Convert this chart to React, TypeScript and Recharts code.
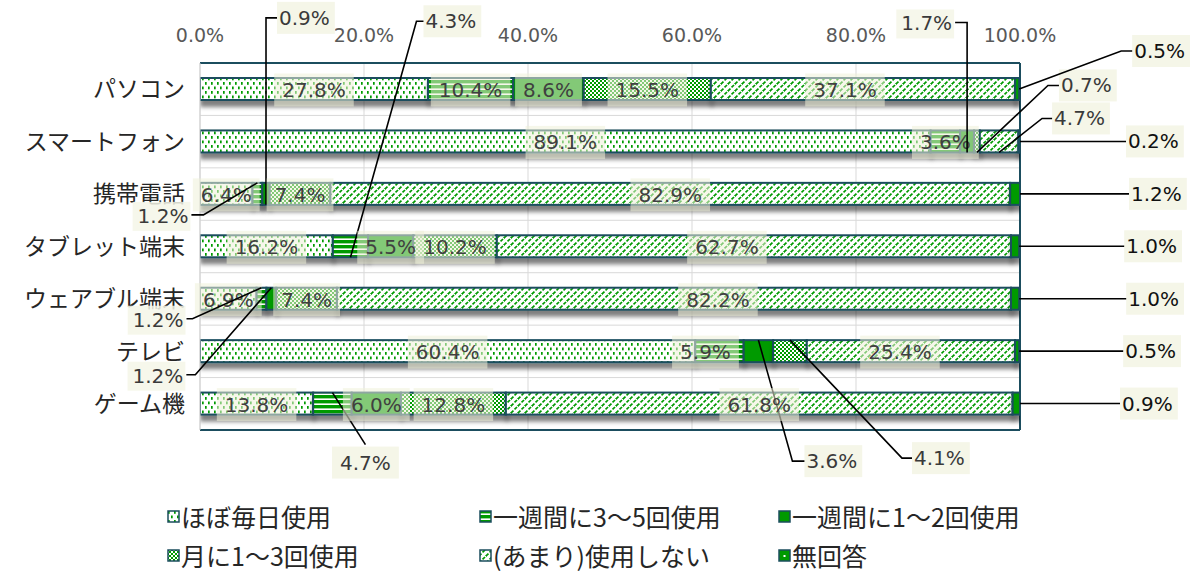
import React from 'react';
import { BarChart, Bar, XAxis, YAxis, CartesianGrid, LabelList } from 'recharts';

// ---------- data ----------
const categories = ['パソコン', 'スマートフォン', '携帯電話', 'タブレット端末', 'ウェアブル端末', 'テレビ', 'ゲーム機'];
const seriesNames = ['ほぼ毎日使用', '一週間に3～5回使用', '一週間に1～2回使用', '月に1～3回使用', '(あまり)使用しない', '無回答'];
const daily = [27.8, 89.1, 6.4, 16.2, 6.9, 60.4, 13.8];
const weekly35 = [10.4, 3.6, 1.2, 4.3, 1.2, 5.9, 4.7];
const weekly12 = [8.6, 1.7, 0.9, 5.5, 1.2, 3.6, 6.0];
const monthly = [15.5, 0.7, 7.4, 10.2, 7.4, 4.1, 12.8];
const rarely = [37.1, 4.7, 82.9, 62.7, 82.2, 25.4, 61.8];
const noAnswer = [0.5, 0.2, 1.2, 1.0, 1.0, 0.5, 0.9];
const xTicks = [0, 20, 40, 60, 80, 100];

const seriesKeys = ['d', 'w35', 'w12', 'm', 'r', 'na'];
const seriesValues = [daily, weekly35, weekly12, monthly, rarely, noAnswer];

const data = categories.map((name, i) => {
  const row: Record<string, any> = { name };
  seriesKeys.forEach((k, s) => { row[k] = seriesValues[s][i]; });
  return row;
});

// ---------- styles ----------
const FONT_NUM = "'DejaVu Sans', sans-serif";
const FONT_JP = "'Noto Sans CJK JP', sans-serif";
const TEAL = '#1B4D5E';
const GREEN = '#009A00';
const LABEL_SIZE = 20;
const seriesFills = ['url(#pDaily)', 'url(#p35)', GREEN, 'url(#pMonth)', 'url(#pRarely)', GREEN];

type Callout = { anchor: 'top' | 'bottom' | 'end'; dx: number; dy: number; tail: number; side: 'left' | 'right' | 'below'; dark?: boolean };
// leader-line label placement (layout only)
const callouts: Record<string, Callout> = {
  'na|0': { anchor: 'end', dx: 102, dy: -38, tail: 12, side: 'right', dark: true },
  'w12|1': { anchor: 'bottom', dx: 0, dy: -130, tail: 12, side: 'left' },
  'm|1': { anchor: 'bottom', dx: 71, dy: -67, tail: 12, side: 'right' },
  'r|1': { anchor: 'bottom', dx: 43, dy: -34, tail: 11, side: 'right' },
  'na|1': { anchor: 'end', dx: 107, dy: 0, tail: 0, side: 'right', dark: true },
  'w35|2': { anchor: 'top', dx: -54, dy: 32, tail: 12, side: 'left' },
  'w12|2': { anchor: 'bottom', dx: 0, dy: -187, tail: 12, side: 'right' },
  'na|2': { anchor: 'end', dx: 110, dy: 0, tail: 0, side: 'right', dark: true },
  'w35|3': { anchor: 'bottom', dx: 66, dy: -236, tail: 8, side: 'right' },
  'na|3': { anchor: 'end', dx: 106, dy: 0, tail: 0, side: 'right', dark: true },
  'w35|4': { anchor: 'top', dx: -69, dy: 31, tail: 6, side: 'left' },
  'w12|4': { anchor: 'top', dx: -76, dy: 87, tail: 9, side: 'left' },
  'na|4': { anchor: 'end', dx: 108, dy: 0, tail: 0, side: 'right', dark: true },
  'w12|5': { anchor: 'top', dx: 34, dy: 121, tail: 13, side: 'right' },
  'm|5': { anchor: 'top', dx: 112, dy: 118, tail: 11, side: 'right' },
  'na|5': { anchor: 'end', dx: 105, dy: 0, tail: 0, side: 'right', dark: true },
  'w35|6': { anchor: 'top', dx: 33, dy: 52, tail: 0, side: 'below' },
  'na|6': { anchor: 'end', dx: 101, dy: 0, tail: 0, side: 'right', dark: true },
};
const insideShift: Record<string, number> = { 'r|0': -18, 'r|3': -27, 'r|4': 44, 'r|5': -11, 'w35|5': -14 };

let measureCtx: CanvasRenderingContext2D | null = null;
function textWidth(t: string, size: number, family: string) {
  try {
    if (!measureCtx) measureCtx = document.createElement('canvas').getContext('2d');
    if (measureCtx) {
      measureCtx.font = `${size}px ${family}`;
      return measureCtx.measureText(t).width;
    }
  } catch (e) { /* ignore */ }
  return t.length * size * 0.6;
}

const makeLabel = (key: string) => (props: any) => {
  const vb = props.viewBox || {};
  const x = props.x ?? vb.x;
  const y = props.y ?? vb.y;
  const w = props.width ?? vb.width;
  const h = props.height ?? vb.height;
  const index = props.index;
  const value = props.value;
  if (value == null || x == null || y == null) return null;
  const txt = Number(value).toFixed(1) + '%';
  const id = `${key}|${index}`;
  const co = callouts[id];
  const tw = textWidth(txt, LABEL_SIZE, FONT_NUM);
  if (!co) {
    const cx = x + w / 2 + (insideShift[id] ?? 0);
    const cy = y + h / 2;
    const bw = tw + 16;
    const bh = 33;
    return (
      <g>
        <rect x={cx - bw / 2} y={cy - bh / 2 + 1} width={bw} height={bh} fill="#EEF1D8" fillOpacity={0.55} />
        <text x={cx} y={cy + 1} textAnchor="middle" dominantBaseline="central" fontSize={LABEL_SIZE} fontFamily={FONT_NUM} fill="#404040">{txt}</text>
      </g>
    );
  }
  let ax = x + w / 2;
  let ay = y + h / 2;
  if (co.anchor === 'top') ay = y;
  if (co.anchor === 'bottom') ay = y + h;
  if (co.anchor === 'end') ax = x + w;
  const ex = ax + co.dx;
  const ey = ay + co.dy;
  let tx = ex;
  if (co.side === 'right') tx = ex + co.tail;
  if (co.side === 'left') tx = ex - co.tail;
  const bh = 32;
  const color = co.dark ? '#111' : '#3a3a3a';
  let box: React.ReactNode;
  if (co.side === 'right') {
    box = (
      <g>
        <rect x={tx - 1} y={ey - bh / 2} width={tw + 7} height={bh} fill="#F5F6E8" />
        <text x={tx + 1} y={ey} dominantBaseline="central" fontSize={LABEL_SIZE} fontFamily={FONT_NUM} fill={color}>{txt}</text>
      </g>
    );
  } else if (co.side === 'left') {
    box = (
      <g>
        <rect x={tx - tw - 8} y={ey - bh / 2 + 3} width={tw + 7} height={bh - 3} fill="#F5F6E8" fillOpacity={0.85} />
        <text x={tx - 3} y={ey + 1} textAnchor="end" dominantBaseline="central" fontSize={LABEL_SIZE} fontFamily={FONT_NUM} fill={color}>{txt}</text>
      </g>
    );
  } else {
    box = (
      <g>
        <rect x={ex - tw / 2 - 8} y={ey + 2} width={tw + 16} height={bh} fill="#F5F6E8" />
        <text x={ex} y={ey + 2 + bh / 2} textAnchor="middle" dominantBaseline="central" fontSize={LABEL_SIZE} fontFamily={FONT_NUM} fill={color}>{txt}</text>
      </g>
    );
  }
  return (
    <g>
      <polyline points={`${ax},${ay} ${ex},${ey} ${tx},${ey}`} fill="none" stroke="#000" strokeWidth={1.6} />
      {box}
    </g>
  );
};

const BarShape = (props: any) => {
  const { x, y, width, height, fill } = props;
  if (width == null || width <= 0) return null;
  return <rect x={x} y={y} width={width} height={height} fill={fill} stroke={TEAL} strokeWidth={2} filter="url(#barShadow)" />;
};

const legendX = [167, 479, 778];
const legendY = [516, 555];

const LegendMarker = ({ fill, dot }: { fill: string; dot?: boolean }) => (
  <svg width={13} height={13} style={{ display: 'block' }}>
    <rect x={1} y={1} width={11} height={11} fill={fill} stroke={TEAL} strokeWidth={1.5} />
    {dot ? <rect x={5.5} y={6} width={2} height={2} fill="#fff" /> : null}
  </svg>
);

export default function App() {
  return (
    <div style={{ position: 'absolute', left: 0, top: 0, width: 1193, height: 576, background: '#fff' }}>
      <BarChart
        width={1193}
        height={576}
        data={data}
        layout="vertical"
        margin={{ top: 0, right: 173, bottom: 146, left: 0 }}
        barSize={22}
      >
        <defs>
          <pattern id="pDaily" patternUnits="userSpaceOnUse" width={6} height={9}>
            <rect width={6} height={9} fill="#fff" />
            <rect x={1} y={1} width={1.7} height={2.8} fill={GREEN} />
            <rect x={4} y={5.5} width={1.7} height={2.8} fill={GREEN} />
          </pattern>
          <pattern id="p35" patternUnits="userSpaceOnUse" width={4} height={5}>
            <rect width={4} height={5} fill={GREEN} />
            <rect x={0} y={3.4} width={4} height={1.6} fill="#fff" />
          </pattern>
          <pattern id="pMonth" patternUnits="userSpaceOnUse" width={4} height={4}>
            <rect width={4} height={4} fill="#fff" />
            <rect x={0} y={0} width={2} height={2} fill={GREEN} />
            <rect x={2} y={2} width={2} height={2} fill={GREEN} />
          </pattern>
          <pattern id="pRarely" patternUnits="userSpaceOnUse" width={7} height={7}>
            <rect width={7} height={7} fill="#fff" />
            <path d="M0,7 L7,0 M-1,1 L1,-1 M6,8 L8,6" stroke={GREEN} strokeWidth={1.7} strokeDasharray="3.5 1.5" />
          </pattern>
          <filter id="barShadow" filterUnits="userSpaceOnUse" x={0} y={0} width={1193} height={576}>
            <feDropShadow dx={1} dy={6} stdDeviation={2} floodColor="#000" floodOpacity={0.5} />
          </filter>
        </defs>
        <CartesianGrid
          stroke="#D9D9D9"
          strokeWidth={1}
          horizontalCoordinatesGenerator={({ offset }: any) =>
            categories.map((_, i) => offset.top + (i * offset.height) / categories.length)}
        />
        <CartesianGrid
          stroke={TEAL}
          strokeWidth={2}
          horizontalCoordinatesGenerator={({ offset }: any) => [offset.top, offset.top + offset.height]}
          verticalCoordinatesGenerator={({ offset }: any) => [offset.left + offset.width]}
        />
        <XAxis
          type="number"
          orientation="top"
          domain={[0, 100]}
          ticks={xTicks}
          tickFormatter={(v: number) => v.toFixed(1) + '%'}
          height={63}
          axisLine={false}
          tickLine={false}
          tickSize={0}
          tickMargin={21}
          tick={{ fontSize: 19, fill: '#595959', fontFamily: FONT_NUM }}
          interval={0}
          allowDataOverflow
        />
        <YAxis
          type="category"
          dataKey="name"
          width={200}
          axisLine={{ stroke: '#D0D0D0' }}
          tickLine={false}
          tickSize={0}
          tickMargin={15}
          tick={{ fontSize: 23, fill: '#262626', fontFamily: FONT_JP }}
          interval={0}
        />
        {seriesKeys.map((k, s) => (
          <Bar key={k} dataKey={k} name={seriesNames[s]} stackId="a" fill={seriesFills[s]} isAnimationActive={false} shape={BarShape}>
            <LabelList dataKey={k} content={makeLabel(k)} />
          </Bar>
        ))}
      </BarChart>
      {seriesNames.map((n, i) => (
        <div
          key={n}
          style={{
            position: 'absolute',
            left: legendX[i % 3],
            top: legendY[Math.floor(i / 3)] - 16,
            height: 32,
            display: 'flex',
            alignItems: 'center',
            whiteSpace: 'nowrap',
            fontFamily: FONT_JP,
            fontSize: 25,
            lineHeight: '32px',
            color: '#262626',
          }}
        >
          <LegendMarker fill={seriesFills[i]} dot={i === 5} />
          <span style={{ marginLeft: 1 }}>{n}</span>
        </div>
      ))}
    </div>
  );
}
